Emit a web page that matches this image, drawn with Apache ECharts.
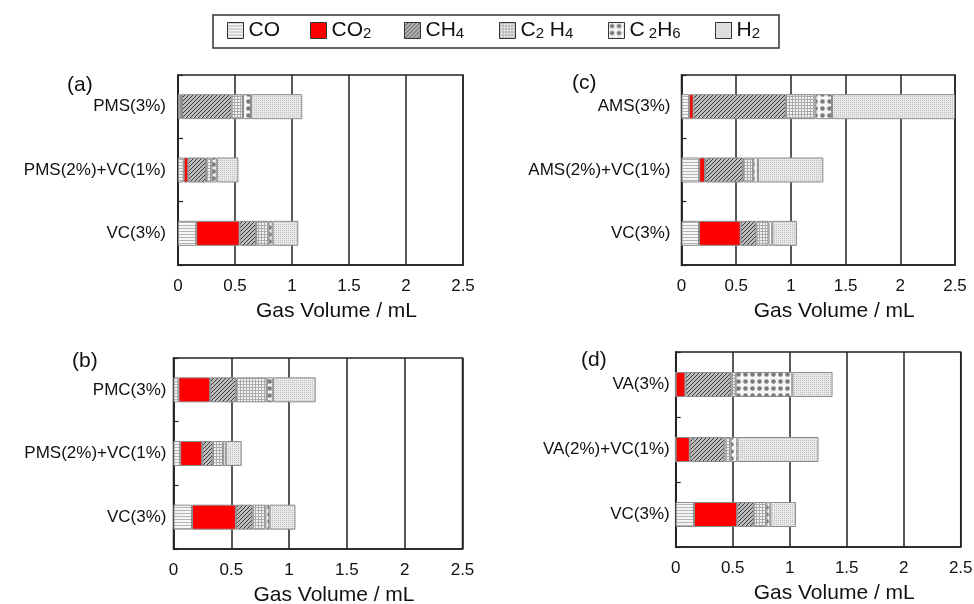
<!DOCTYPE html>
<html>
<head>
<meta charset="utf-8">
<script src="https://cdn.jsdelivr.net/npm/echarts@6/dist/echarts.min.js"></script>
<style>
html,body{margin:0;padding:0;background:#fff;}
#chart{width:974px;height:604px;}
</style>
</head>
<body>
<div id="chart"></div>
<script>
// ---------- data ----------
const gasNames = ['CO', 'CO2', 'CH4', 'C2H4', 'C2H6', 'H2'];
const xTickLabels = ['0', '0.5', '1', '1.5', '2', '2.5'];
const axisTitle = 'Gas Volume / mL';

// panel (a)
const catsA = ['PMS(3%)', 'PMS(2%)+VC(1%)', 'VC(3%)'];
const coA   = [0.02, 0.05, 0.16];
const co2A  = [0.015, 0.04, 0.38];
const ch4A  = [0.435, 0.155, 0.145];
const c2h4A = [0.10, 0.05, 0.11];
const c2h6A = [0.07, 0.045, 0.035];
const h2A   = [0.45, 0.19, 0.225];

// panel (b)
const catsB = ['PMC(3%)', 'PMS(2%)+VC(1%)', 'VC(3%)'];
const coB   = [0.043, 0.058, 0.16];
const co2B  = [0.274, 0.19, 0.38];
const ch4B  = [0.225, 0.092, 0.145];
const c2h4B = [0.265, 0.087, 0.11];
const c2h6B = [0.052, 0.025, 0.035];
const h2B   = [0.371, 0.138, 0.225];

// panel (c)
const catsC = ['AMS(3%)', 'AMS(2%)+VC(1%)', 'VC(3%)'];
const coC   = [0.07, 0.162, 0.16];
const co2C  = [0.04, 0.054, 0.38];
const ch4C  = [0.844, 0.345, 0.145];
const c2h4C = [0.27, 0.094, 0.11];
const c2h6C = [0.152, 0.043, 0.035];
const h2C   = [1.124, 0.598, 0.225];

// panel (d)
const catsD = ['VA(3%)', 'VA(2%)+VC(1%)', 'VC(3%)'];
const coD   = [0.0, 0.0, 0.16];
const co2D  = [0.085, 0.123, 0.38];
const ch4D  = [0.403, 0.306, 0.145];
const c2h4D = [0.038, 0.053, 0.11];
const c2h6D = [0.497, 0.059, 0.035];
const h2D   = [0.353, 0.712, 0.225];

// ---------- patterns ----------
function tile(w, h, draw) {
  const c = document.createElement('canvas');
  c.width = w; c.height = h;
  const ctx = c.getContext('2d');
  draw(ctx, w, h);
  return { image: c, repeat: 'repeat' };
}
const patterns = [
  tile(3, 3, (g) => { g.fillStyle = '#f5f5f5'; g.fillRect(0,0,3,3); g.fillStyle = '#b4b4b4'; g.fillRect(0,0,3,1); }),
  '#ff0000',
  tile(4, 4, (g) => { g.fillStyle = '#bdbdbd'; g.fillRect(0,0,4,4); g.fillStyle = '#3a3a3a';
    g.fillRect(3,0,1,1); g.fillRect(2,1,1,1); g.fillRect(1,2,1,1); g.fillRect(0,3,1,1); }),
  tile(3, 3, (g) => { g.fillStyle = '#f4f4f4'; g.fillRect(0,0,3,3); g.fillStyle = '#ababab'; g.fillRect(0,0,3,1); g.fillRect(0,0,1,3); }),
  tile(7, 7, (g) => { g.fillStyle = '#f6f6f6'; g.fillRect(0,0,7,7); g.fillStyle = '#7a7a7a';
    g.beginPath(); g.arc(3.5, 3.5, 2.3, 0, Math.PI*2); g.fill(); }),
  tile(2, 2, (g) => { g.fillStyle = '#e8e8e8'; g.fillRect(0,0,2,2); g.fillStyle = '#c0c0c0'; g.fillRect(0,0,1,1); })
];

const legendLabels = {
  'CO':   '{n|CO}',
  'CO2':  '{n|CO}{s|2}',
  'CH4':  '{n|CH}{s|4}',
  'C2H4': '{n|C}{s|2}{n| H}{s|4}',
  'C2H6': '{n|C}{s| 2}{n|H}{s|6}',
  'H2':   '{n|H}{s|2}'
};
const legendX = [227, 310, 404, 499, 608, 715];

// ---------- panels ----------
const panels = [
  { cats: catsA, vals: [coA, co2A, ch4A, c2h4A, c2h6A, h2A], left: 178, width: 285, top: 75, height: 190, labMargin: 12 },
  { cats: catsB, vals: [coB, co2B, ch4B, c2h4B, c2h6B, h2B], left: 173.5, width: 289, top: 358, height: 191, labMargin: 7 },
  { cats: catsC, vals: [coC, co2C, ch4C, c2h4C, c2h6C, h2C], left: 681.5, width: 273.5, top: 75, height: 190, labMargin: 11 },
  { cats: catsD, vals: [coD, co2D, ch4D, c2h4D, c2h6D, h2D], left: 675.7, width: 285, top: 352, height: 195, labMargin: 6 }
];
const panelLetters = [
  { t: '(a)', x: 67, y: 85 },
  { t: '(b)', x: 72, y: 361 },
  { t: '(c)', x: 572, y: 83 },
  { t: '(d)', x: 581, y: 360 }
];

const FONT = 'Liberation Sans, Arial, sans-serif';
const grids = [], xAxes = [], yAxes = [], series = [];
panels.forEach((p, i) => {
  grids.push({ left: p.left, top: p.top, width: p.width, height: p.height, show: true,
    borderColor: '#222', borderWidth: 1.5, backgroundColor: 'transparent', containLabel: false, outerBoundsMode: 'none' });
  xAxes.push({ type: 'value', gridIndex: i, min: 0, max: 2.5, interval: 0.5,
    axisLine: { show: true, lineStyle: { color: '#222', width: 1.5 } },
    axisTick: { show: false },
    splitLine: { show: true, lineStyle: { color: '#222', width: 1.5 } },
    axisLabel: { color: '#111', fontSize: 17, margin: 13, fontFamily: FONT,
      formatter: (v) => xTickLabels[Math.round(v / 0.5)] },
    name: axisTitle, nameLocation: 'middle', nameGap: 36,
    nameTextStyle: { color: '#111', fontSize: 21, fontFamily: FONT, padding: [0, 0, 0, 32] } });
  yAxes.push({ type: 'category', gridIndex: i, data: p.cats, inverse: true,
    axisLine: { show: true, lineStyle: { color: '#222', width: 1.5 } },
    axisTick: { show: true, inside: true, length: 5, lineStyle: { color: '#222', width: 1.2 } },
    splitLine: { show: false },
    axisLabel: { color: '#111', fontSize: 17, margin: p.labMargin, fontFamily: FONT } });
  gasNames.forEach((g, k) => {
    series.push({ type: 'bar', name: g, xAxisIndex: i, yAxisIndex: i, stack: 'panel' + i,
      barWidth: 25, data: p.vals[k],
      itemStyle: { color: patterns[k], borderColor: '#8a8a8a', borderWidth: 1 },
      emphasis: { disabled: true }, silent: true });
  });
});

const legends = gasNames.map((g, k) => ({
  data: [g], left: legendX[k], top: 20, padding: 0, orient: 'horizontal',
  icon: 'rect', itemWidth: 16, itemHeight: 16, itemGap: 0,
  selectedMode: false,
  itemStyle: { borderColor: '#333', borderWidth: 1 },
  formatter: (name) => legendLabels[name],
  textStyle: { color: '#111', fontFamily: FONT, padding: [0, 0, 0, 0],
    rich: {
      n: { fontSize: 21, lineHeight: 22, fontFamily: FONT, color: '#111' },
      s: { fontSize: 15, lineHeight: 10, verticalAlign: 'bottom', fontFamily: FONT, color: '#111' }
    } }
}));

const graphics = [
  { type: 'rect', shape: { x: 213, y: 15, width: 566, height: 33 }, style: { fill: 'none', stroke: '#333', lineWidth: 1.5 }, silent: true }
].concat(panelLetters.map(l => ({
  type: 'text', x: l.x, y: l.y, silent: true,
  style: { text: l.t, fontSize: 21, fontFamily: FONT, fill: '#111', verticalAlign: 'middle', align: 'left' }
})));

const chart = echarts.init(document.getElementById('chart'), null, { renderer: 'canvas' });
chart.setOption({
  animation: false,
  backgroundColor: '#fff',
  textStyle: { fontFamily: FONT },
  grid: grids, xAxis: xAxes, yAxis: yAxes,
  legend: legends,
  graphic: graphics,
  series: series
});
</script>
</body>
</html>
